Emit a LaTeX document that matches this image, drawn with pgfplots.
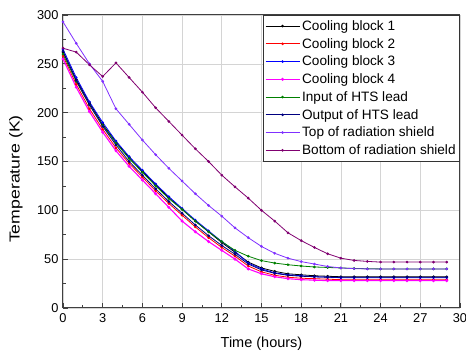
\documentclass[border=0pt]{standalone}
\usepackage{pgfplots}
\pgfplotsset{compat=1.18}
\usepackage{fontspec}
\setmainfont{Liberation Sans}
\definecolor{cbviolet}{RGB}{128,48,255}
\definecolor{cbpurple}{RGB}{128,0,112}
\definecolor{cbnavy}{RGB}{0,0,128}
\definecolor{cbgreen}{RGB}{0,128,0}
\definecolor{cbmag}{RGB}{255,0,255}
\begin{document}
\begin{tikzpicture}
\useasboundingbox (-63pt,-44pt) rectangle (403pt,308pt);
\begin{axis}[
  at={(0pt,0pt)}, anchor=south west,
  scale only axis, width=397pt, height=293pt,
  xmin=0, xmax=30, ymin=0, ymax=300,
  xtick={0,3,...,30}, ytick={0,50,...,300},
  minor x tick num=1, minor y tick num=1,
  tick pos=left, tick align=inside,
  major tick length=5pt, minor tick length=3pt,
  grid=major,
  major grid style={draw=black!17, line width=0.6pt},
  axis line style={draw=black!75, line width=1pt},
  every tick/.style={draw=black!75, line width=0.8pt},
  ticklabel style={font=\fontsize{12.8}{14}\selectfont},
  /pgf/number format/assume math mode=true,
  xticklabel style={yshift=-2pt},
  yticklabel style={xshift=-1pt},
  xlabel={Time (hours)},
  ylabel={\scalebox{1.22}[1]{Temperature (K)}},
  label style={font=\fontsize{14.5}{16}\selectfont},
  xlabel style={at={(axis description cs:0.5,-0.122)}, anchor=center},
  ylabel style={at={(axis description cs:-0.1184,0.44)}, anchor=center},
  legend style={at={(1,1)}, anchor=north east, draw=black!80, line width=0.8pt,
    font=\fontsize{13.6}{15}\selectfont, row sep=2.4pt, inner xsep=2pt, inner ysep=3pt,
    cells={anchor=west}},
  legend image code/.code={\draw[#1] (0pt,0pt) -- (34pt,0pt); \draw[#1, mark repeat=1] plot coordinates {(17pt,0pt)};},
  every axis plot/.append style={line width=0.8pt, mark=*, mark size=0.9pt},
]
\addplot[black, mark options={fill=black}] coordinates {
(0,262)(1,234)(2,210)(3,188)(4,170)(5,154)(6,140)(7,126)(8,113)(9,101)(10,89)(11,78)(12,67)(13,57)(14,47)(15,41)(16,37.5)(17,35)(18,34)(19,33)(20,32.5)(21,32)(22,32)(23,32)(24,32)(25,32)(26,32)(27,32)(28,32)(29,32)};
\addlegendentry{Cooling block 1}
\addplot[red, mark options={fill=red}] coordinates {
(0,258)(1,229)(2,204)(3,183)(4,164)(5,148)(6,134)(7,120)(8,107)(9,95)(10,83)(11,72)(12,62)(13,53)(14,43)(15,37)(16,33.5)(17,31.5)(18,30.5)(19,30)(20,29.5)(21,29)(22,29)(23,29)(24,29)(25,29)(26,29)(27,29)(28,29)(29,29)};
\addlegendentry{Cooling block 2}
\addplot[blue, mark options={fill=blue}] coordinates {
(0,265)(1,236)(2,211)(3,190)(4,171)(5,155)(6,141)(7,127)(8,114)(9,102)(10,90)(11,79)(12,68)(13,58)(14,46)(15,40)(16,36)(17,34)(18,33)(19,32)(20,31.5)(21,31)(22,31)(23,31)(24,31)(25,31)(26,31)(27,31)(28,31)(29,31)};
\addlegendentry{Cooling block 3}
\addplot[cbmag, line width=1.1pt, mark options={fill=cbmag}] coordinates {
(0,255)(1,226)(2,201)(3,180)(4,161)(5,145)(6,131)(7,117)(8,103)(9,89)(10,78)(11,68)(12,59)(13,50)(14,40)(15,35)(16,32)(17,30)(18,29)(19,28.5)(20,28)(21,28)(22,28)(23,28)(24,28)(25,28)(26,28)(27,28)(28,28)(29,28)};
\addlegendentry{Cooling block 4}
\addplot[cbgreen, mark options={fill=cbgreen}] coordinates {
(0,260)(1,232)(2,208)(3,187)(4,169)(5,153)(6,139)(7,125)(8,112)(9,101)(10,89)(11,78)(12,68)(13,59)(14,53)(15,48.5)(16,46)(17,44.3)(18,43)(19,42)(20,41.5)(21,41)(22,40.5)(23,40.2)(24,40)(25,40)(26,40)(27,40)(28,40)(29,40)};
\addlegendentry{Input of HTS lead}
\addplot[cbnavy, mark options={fill=cbnavy}] coordinates {
(0,263)(1,233)(2,208)(3,186)(4,167)(5,150)(6,136)(7,122)(8,109)(9,97)(10,85)(11,74)(12,64)(13,55)(14,45)(15,39)(16,35.5)(17,33.5)(18,32.5)(19,32)(20,31.5)(21,31.5)(22,31.5)(23,31.5)(24,31.5)(25,31.5)(26,31.5)(27,31.5)(28,31.5)(29,31.5)};
\addlegendentry{Output of HTS lead}
\addplot[cbviolet, mark options={fill=cbviolet}] coordinates {
(0,293)(1,271)(2,250)(3,232)(4,204)(5,188)(6,172)(7,157)(8,143)(9,130)(10,117)(11,105)(12,94)(13,82)(14,72)(15,63)(16,56)(17,51)(18,47.5)(19,45)(20,42.5)(21,41)(22,40.3)(23,40)(24,40)(25,40)(26,40)(27,40)(28,40)(29,40)};
\addlegendentry{Top of radiation shield}
\addplot[cbpurple, mark options={fill=cbpurple}] coordinates {
(0,266)(1,262)(2,249)(3,237)(4,251)(5,236)(6,221)(7,205)(8,191)(9,177)(10,163)(11,150)(12,136)(13,124)(14,112.5)(15,100)(16,89)(17,77)(18,69)(19,62)(20,55.5)(21,51)(22,48.7)(23,47.7)(24,47)(25,47)(26,47)(27,47)(28,47)(29,47)};
\addlegendentry{Bottom of radiation shield}
\end{axis}
\end{tikzpicture}
\end{document}
